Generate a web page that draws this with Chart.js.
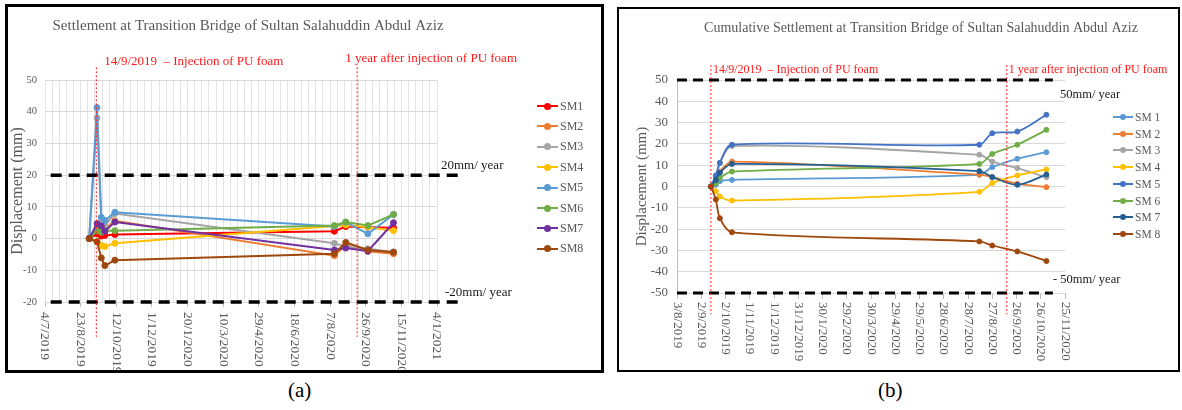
<!DOCTYPE html>
<html><head><meta charset="utf-8">
<script src="https://cdn.jsdelivr.net/npm/chart.js@4.4.1/dist/chart.umd.min.js"></script>
<style>
body{margin:0;width:1182px;height:410px;background:#fff;position:relative;overflow:hidden;font-family:"Liberation Serif","Times New Roman",serif;}
.panel{position:absolute;box-sizing:border-box;border:3px solid #000;}
canvas{position:absolute;}
.cap{position:absolute;font-size:21px;line-height:22px;color:#000;}
.lg{position:absolute;display:flex;align-items:center;height:16px;color:#595959;white-space:nowrap;}
</style></head><body>
<div class="panel" style="left:5px;top:4px;width:599px;height:369px;"></div>
<div class="panel" style="left:617px;top:7px;width:563px;height:365px;border-width:2.5px;"></div>
<canvas id="ca" width="592" height="363" style="left:8px;top:7px"></canvas>
<canvas id="cb" width="556" height="361" style="left:620px;top:9px"></canvas>
<div class="cap" style="left:288px;top:379px">(a)</div>
<div class="cap" style="left:878px;top:379px">(b)</div>
<script>
// ---------- data ----------
const seriesA = ['SM1','SM2','SM3','SM4','SM5','SM6','SM7','SM8'];
const seriesB = ['SM 1','SM 2','SM 3','SM 4','SM 5','SM 6','SM 7','SM 8'];
const colorsA = ['#FF0000','#ED7D31','#A5A5A5','#FFC000','#5B9BD5','#70AD47','#7030A0','#9E480E'];
const colorsB = ['#5B9BD5','#ED7D31','#A5A5A5','#FFC000','#4472C4','#70AD47','#255E91','#9E480E'];

const datesA = ['4/9/2019','15/9/2019','21/9/2019','26/9/2019','10/10/2019','13/8/2020','29/8/2020','29/9/2020','4/11/2020'];
const aSM1 = [0, 1.5, 0.8, 1.0, 1.3, 2.3, 3.8, 3.6, 3.4];
const aSM2 = [0, 3.5, 4.2, 3.0, 5.6, -5.4, -2.0, -4.0, -4.8];
const aSM3 = [0, 38.0, 5.2, 4.2, 7.9, -1.5, -2.5, -3.2, -4.2];
const aSM4 = [0, -1.0, -2.2, -2.5, -1.5, 4.0, 4.3, 3.6, 2.5];
const aSM5 = [0, 41.3, 6.7, 5.7, 8.3, 3.8, 5.2, 1.5, 7.6];
const aSM6 = [0, 2.5, 2.0, 2.5, 2.5, 4.1, 5.2, 4.1, 7.6];
const aSM7 = [0, 4.7, 4.0, 2.3, 5.2, -3.6, -3.0, -4.0, 5.0];
const aSM8 = [0, -1.0, -6.1, -8.5, -6.8, -4.8, -1.2, -3.6, -4.3];
const valuesA = [aSM1,aSM2,aSM3,aSM4,aSM5,aSM6,aSM7,aSM8];

const datesB = ['14/9/2019','20/9/2019','25/9/2019','10/10/2019','11/8/2020','27/8/2020','27/9/2020','2/11/2020'];
const bSM1 = [0, 0.8, 2.5, 3.1, 5.5, 9.1, 13.0, 16.1];
const bSM2 = [0, 3.5, 7.0, 11.7, 5.6, 4.5, 1.3, -0.3];
const bSM3 = [0, 4.0, 11.0, 19.0, 14.9, 11.7, 8.6, 4.4];
const bSM4 = [0, -2.2, -4.7, -6.6, -2.5, 1.6, 5.2, 8.0];
const bSM5 = [0, 5.2, 11.1, 19.6, 19.6, 25.0, 25.8, 33.7];
const bSM6 = [0, 1.5, 4.0, 7.0, 10.6, 15.3, 19.6, 26.6];
const bSM7 = [0, 3.0, 6.4, 10.6, 7.2, 4.4, 0.8, 5.6];
const bSM8 = [0, -6.1, -14.9, -21.5, -25.8, -27.7, -30.5, -35.0];
const valuesB = [bSM1,bSM2,bSM3,bSM4,bSM5,bSM6,bSM7,bSM8];

const xLabelsA = ['4/7/2019','23/8/2019','12/10/2019','1/12/2019','20/1/2020','10/3/2020','29/4/2020','18/6/2020','7/8/2020','26/9/2020','15/11/2020','4/1/2021'];
const xLabelsB = ['3/8/2019','2/9/2019','2/10/2019','1/11/2019','1/12/2019','31/12/2019','30/1/2020','29/2/2020','30/3/2020','29/4/2020','29/5/2020','28/6/2020','28/7/2020','27/8/2020','26/9/2020','26/10/2020','25/11/2020'];
const yTicksA = [-20,-10,0,10,20,30,40,50];
const yTicksB = [-50,-40,-30,-20,-10,0,10,20,30,40,50];

const thresholdsA = [20,-20];
const thresholdLabelsA = ['20mm/ year','-20mm/ year'];
const thresholdsB = [50,-50];
const thresholdLabelsB = ['50mm/ year','- 50mm/ year'];
const eventDates = ['14/9/2019','14/9/2020'];
const eventLabels = ['14/9/2019  \u2013 Injection of PU foam','1 year after injection of PU foam'];
const titleA = 'Settlement at Transition Bridge of Sultan Salahuddin Abdul Aziz';
const titleB = 'Cumulative Settlement at Transition Bridge of Sultan Salahuddin Abdul Aziz';
const yTitle = 'Displacement (mm)';

// ---------- helpers ----------
const FONT = '"Liberation Serif","Times New Roman",serif';
Chart.defaults.font.family = FONT;
Chart.defaults.color = '#595959';
function toDay(s){const [d,m,y]=s.split('/').map(Number);return Date.UTC(y,m-1,d)/864e5;}

function seriesDatasets(names, colors, dates, values, st){
  return names.map((n,i)=>({
    label:n,
    data:dates.map((d,j)=>({x:toDay(d),y:values[i][j]})),
    borderColor:colors[i], backgroundColor:colors[i],
    pointBackgroundColor:colors[i], pointBorderColor:colors[i],
    borderWidth:st.lw, pointRadius:st.pr, pointBorderWidth:1,
    tension:st.tension, order:names.length-i
  }));
}
function thresholdDatasets(vals, x0, x1, st){
  return vals.map(v=>({label:'_th', data:[{x:x0,y:v},{x:x1,y:v}], borderColor:'#000', borderWidth:st.w,
    borderDash:st.dash, pointRadius:0, tension:0, clip:false, order:-1}));
}
function eventDatasets(dates, yTop, yBot){
  return dates.map(d=>({label:'_ev', data:[{x:toDay(d),y:yTop},{x:toDay(d),y:yBot}], borderColor:'#ff1a1a',
    borderWidth:1, borderDash:[2,2], pointRadius:0, tension:0, clip:false, order:-2}));
}
function overlay(cfg){
  return {id:'ov', afterDraw(chart){
    const ctx=chart.ctx, xs=chart.scales.x, ys=chart.scales.y, ca=chart.chartArea;
    ctx.save();
    ctx.fillStyle='#595959'; ctx.font=cfg.xFont+'px '+FONT; ctx.textAlign='left'; ctx.textBaseline='middle';
    xs.ticks.forEach(t=>{ if(!t.major) return; const px=xs.getPixelForValue(t.value);
      ctx.save(); ctx.translate(px, ca.bottom+cfg.xGap); ctx.rotate(Math.PI/2); ctx.fillText(cfg.labelOf(t.value),0,0); ctx.restore(); });
    ctx.fillStyle='#595959'; ctx.font=cfg.titleFont+'px '+FONT; ctx.textAlign='center';
    ctx.fillText(cfg.title, cfg.titleX, cfg.titleY);
    ctx.fillStyle='#ff1a1a'; ctx.font=cfg.evFont+'px '+FONT; ctx.textAlign='left';
    eventDates.forEach((d,i)=>{ const px=xs.getPixelForValue(toDay(d));
      ctx.fillText(eventLabels[i], px+cfg.evDx[i], ca.top+cfg.evDy[i]); });
    ctx.fillStyle='#1a1a1a'; ctx.font=cfg.thFont+'px '+FONT;
    cfg.thVals.forEach((v,i)=>{ ctx.fillText(cfg.thLabels[i], ca.right+cfg.thDx[i], ys.getPixelForValue(v)+cfg.thDy[i]); });
    ctx.restore();
  }};
}
function legend(names, colors, x, y0, dy, lw, r, fs){
  names.forEach((n,i)=>{
    const row=document.createElement('div'); row.className='lg';
    row.style.left=x+'px'; row.style.top=(y0+dy*i-8)+'px'; row.style.fontSize=fs+'px';
    const m=document.createElement('span');
    m.style.cssText='position:relative;display:inline-block;width:'+lw+'px;height:2px;margin-right:2px;background:'+colors[i];
    const d=document.createElement('span');
    d.style.cssText='position:absolute;left:'+(lw/2-r)+'px;top:'+(1-r)+'px;width:'+(2*r)+'px;height:'+(2*r)+'px;border-radius:50%;background:'+colors[i];
    m.appendChild(d); row.appendChild(m); row.appendChild(document.createTextNode(n)); document.body.appendChild(row);
  });
}

// ---------- chart (a) ----------
(function(){
  const majors = xLabelsA.map(toDay);
  const ticks=[]; const labelMap=new Map();
  majors.forEach((v,i)=>{ labelMap.set(v,xLabelsA[i]); ticks.push({value:v,major:true});
    if(i<majors.length-1){ const step=(majors[i+1]-v)/5; for(let k=1;k<5;k++) ticks.push({value:v+k*step,major:false}); }});
  const xmin=majors[0], xmax=majors[majors.length-1];
  const ds = seriesDatasets(seriesA, colorsA, datesA, valuesA, {lw:2, pr:3, tension:0})
    .concat(thresholdDatasets(thresholdsA, xmin+8, xmax+36, {w:3.5, dash:[11,7]}))
    .concat(eventDatasets(eventDates, 54, -31));
  new Chart(document.getElementById('ca'), {
    type:'line', data:{datasets:ds},
    options:{responsive:false, animation:false, events:[], devicePixelRatio:1,
      layout:{padding:{left:0,top:73,right:163,bottom:0}},
      plugins:{legend:{display:false}, tooltip:{enabled:false}},
      scales:{
        x:{type:'linear', min:xmin, max:xmax,
           afterBuildTicks:s=>{s.ticks=ticks.map(t=>({...t}));},
           afterFit:s=>{s.height=68;},
           ticks:{display:false},
           border:{display:false},
           grid:{color:'#e3e3e3', lineWidth:1, tickLength:5, tickColor:c=>(c.tick&&c.tick.major)?'#bfbfbf':'rgba(0,0,0,0)'}},
        y:{min:yTicksA[0], max:yTicksA[yTicksA.length-1], afterFit:s=>{s.width=37;},
           ticks:{stepSize:yTicksA[1]-yTicksA[0], padding:8, font:{size:10.5}, color:'#595959'},
           border:{display:false},
           grid:{color:'#d9d9d9', drawTicks:false},
           title:{display:true, text:yTitle, font:{size:16}, color:'#595959', padding:{top:0,bottom:0}}}
      }},
    plugins:[overlay({xFont:13.5, xGap:10, labelOf:v=>labelMap.get(v),
      title:titleA, titleFont:15, titleX:240, titleY:19,
      evFont:13, evDx:[8,-12], evDy:[-18,-21],
      thVals:thresholdsA, thLabels:thresholdLabelsA, thFont:13, thDx:[4,8], thDy:[-10,-9]})]
  });
  legend(seriesA, colorsA, 537, 106, 20.4, 21, 3.5, 12);
})();

// ---------- chart (b) ----------
(function(){
  const majors = xLabelsB.map(toDay);
  const labelMap=new Map(); majors.forEach((v,i)=>labelMap.set(v,xLabelsB[i]));
  const xmin=majors[0], xmax=majors[majors.length-1];
  const ds = seriesDatasets(seriesB, colorsB, datesB, valuesB, {lw:1.8, pr:2.5, tension:0.3})
    .concat(thresholdDatasets(thresholdsB, xmin, xmax-15, {w:3, dash:[10,6]}))
    .concat(eventDatasets(eventDates, 57, -60));
  new Chart(document.getElementById('cb'), {
    type:'line', data:{datasets:ds},
    options:{responsive:false, animation:false, events:[], devicePixelRatio:1,
      layout:{padding:{left:0,top:71,right:111,bottom:0}},
      plugins:{legend:{display:false}, tooltip:{enabled:false}},
      scales:{
        x:{type:'linear', min:xmin, max:xmax,
           afterBuildTicks:s=>{s.ticks=majors.map(v=>({value:v,major:true}));},
           afterFit:s=>{s.height=77;},
           ticks:{display:false},
           border:{display:false},
           grid:{drawOnChartArea:false, tickLength:6, tickColor:'#bfbfbf'}},
        y:{min:yTicksB[0], max:yTicksB[yTicksB.length-1], afterFit:s=>{s.width=57;},
           ticks:{stepSize:yTicksB[1]-yTicksB[0], padding:9, font:{size:13}, color:'#595959'},
           border:{display:true, color:'#bfbfbf'},
           grid:{color:'#d9d9d9', drawTicks:false},
           title:{display:true, text:yTitle, font:{size:15}, color:'#595959', padding:{top:13,bottom:0}}}
      }},
    plugins:[overlay({xFont:13, xGap:9, labelOf:v=>labelMap.get(v),
      title:titleB, titleFont:14, titleX:301, titleY:19,
      evFont:12, evDx:[2,2], evDy:[-10,-10],
      thVals:thresholdsB, thLabels:thresholdLabelsB, thFont:12.5, thDx:[-5,-12], thDy:[15,-13]})]
  });
  legend(seriesB, colorsB, 1113, 117, 16.7, 20, 3, 11.5);
})();
</script>
</body></html>
